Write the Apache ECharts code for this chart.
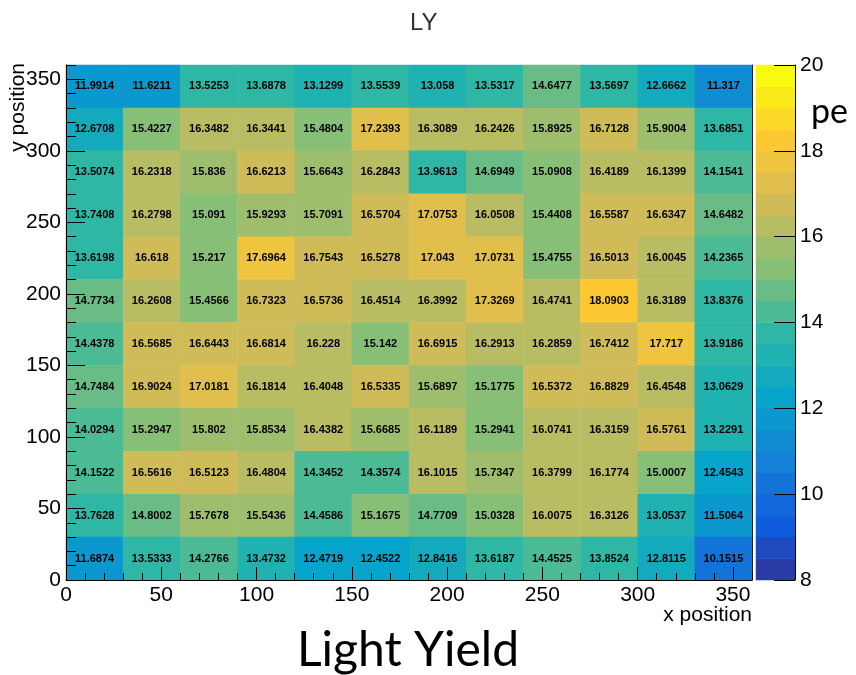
<!DOCTYPE html>
<html>
<head>
<meta charset="utf-8">
<title>LY</title>
<script src="https://cdn.jsdelivr.net/npm/echarts@6/dist/echarts.min.js"></script>
<style>
    html, body { margin: 0; padding: 0; background: #fff; }
    #main { width: 856px; height: 675px; }
</style>
</head>
<body>
<div id="main"></div>
<script>
// bin centres of the 12 x 12 scan grid
const xBins = [15, 45, 75, 105, 135, 165, 195, 225, 255, 285, 315, 345];
const yBins = [15, 45, 75, 105, 135, 165, 195, 225, 255, 285, 315, 345];
const xTicks = [0, 50, 100, 150, 200, 250, 300, 350];
const yTicks = [0, 50, 100, 150, 200, 250, 300, 350];

// light yield (pe), one row per y bin, left to right in x
const ly345 = [11.9914, 11.6211, 13.5253, 13.6878, 13.1299, 13.5539, 13.058, 13.5317, 14.6477, 13.5697, 12.6662, 11.317];
const ly315 = [12.6708, 15.4227, 16.3482, 16.3441, 15.4804, 17.2393, 16.3089, 16.2426, 15.8925, 16.7128, 15.9004, 13.6851];
const ly285 = [13.5074, 16.2318, 15.836, 16.6213, 15.6643, 16.2843, 13.9613, 14.6949, 15.0908, 16.4189, 16.1399, 14.1541];
const ly255 = [13.7408, 16.2798, 15.091, 15.9293, 15.7091, 16.5704, 17.0753, 16.0508, 15.4408, 16.5587, 16.6347, 14.6482];
const ly225 = [13.6198, 16.618, 15.217, 17.6964, 16.7543, 16.5278, 17.043, 17.0731, 15.4755, 16.5013, 16.0045, 14.2365];
const ly195 = [14.7734, 16.2608, 15.4566, 16.7323, 16.5736, 16.4514, 16.3992, 17.3269, 16.4741, 18.0903, 16.3189, 13.8376];
const ly165 = [14.4378, 16.5685, 16.6443, 16.6814, 16.228, 15.142, 16.6915, 16.2913, 16.2859, 16.7412, 17.717, 13.9186];
const ly135 = [14.7484, 16.9024, 17.0181, 16.1814, 16.4048, 16.5335, 15.6897, 15.1775, 16.5372, 16.8829, 16.4548, 13.0629];
const ly105 = [14.0294, 15.2947, 15.802, 15.8534, 16.4382, 15.6685, 16.1189, 15.2941, 16.0741, 16.3159, 16.5761, 13.2291];
const ly75 = [14.1522, 16.5616, 16.5123, 16.4804, 14.3452, 14.3574, 16.1015, 15.7347, 16.3799, 16.1774, 15.0007, 12.4543];
const ly45 = [13.7628, 14.8002, 15.7678, 15.5436, 14.4586, 15.1675, 14.7709, 15.0328, 16.0075, 16.3126, 13.0537, 11.5064];
const ly15 = [11.6874, 13.5333, 14.2766, 13.4732, 12.4719, 12.4522, 12.8416, 13.6187, 14.4525, 13.8524, 12.8115, 10.1515];

// colour scale
const zMin = 8;
const zMax = 20;
const nBands = 24;
const zTicks = [8, 10, 12, 14, 16, 18, 20];

// ROOT kBird palette stops
const birdStops = [0.0, 0.125, 0.25, 0.375, 0.5, 0.625, 0.75, 0.875, 1.0];
const birdRed = [0.2082, 0.0592, 0.0780, 0.0232, 0.1802, 0.5301, 0.8186, 0.9956, 0.9764];
const birdGreen = [0.1664, 0.3599, 0.5041, 0.6419, 0.7178, 0.7492, 0.7328, 0.7862, 0.9832];
const birdBlue = [0.5293, 0.8684, 0.8385, 0.7914, 0.6425, 0.4662, 0.3499, 0.1968, 0.0539];

function birdColor (f) {
    let k = 0;
    while (k < birdStops.length - 2 && f > birdStops[k + 1]) k++;
    const t = (f - birdStops[k]) / (birdStops[k + 1] - birdStops[k]);
    const c = ch => Math.round(255 * (ch[k] + t * (ch[k + 1] - ch[k])));
    return 'rgb(' + c(birdRed) + ',' + c(birdGreen) + ',' + c(birdBlue) + ')';
}

const rowsTopDown = [ly345, ly315, ly285, ly255, ly225, ly195, ly165, ly135, ly105, ly75, ly45, ly15];
let cells = [];
rowsTopDown.forEach((row, r) => {
    row.forEach((v, c) => {
        cells.push([c, yBins.length - 1 - r, v]);
    });
});

const step = (zMax - zMin) / nBands;
let pieces = [];
let bandCats = [];
let bandCells = [];
for (let i = 0; i < nBands; i++) {
    const lo = zMin + i * step;
    pieces.push({ gte: lo, lt: lo + step, color: birdColor((i + 0.99) / nBands) });
    bandCats.push(String(i));
    bandCells.push([0, i, lo + step / 2]);
}

const font = 'Liberation Sans, Arial, Helvetica, sans-serif';
const black = '#000';

var myChart = echarts.init(document.getElementById('main'), null, { renderer: 'canvas' });
let option = {
    animation: false,
    backgroundColor: '#fff',
    title: {
        text: 'LY',
        left: 405,
        top: 6,
        textStyle: { fontFamily: font, fontSize: 24, fontWeight: 'normal', color: '#333' }
    },
    grid: [
        { left: 66, top: 65, width: 686, height: 515, containLabel: false, outerBoundsMode: 'none' },
        { left: 756, top: 65, width: 39, height: 515, containLabel: false, outerBoundsMode: 'none' }
    ],
    visualMap: {
        type: 'piecewise',
        show: false,
        seriesIndex: [0, 1],
        dimension: 2,
        pieces: pieces
    },
    xAxis: [
        { type: 'category', gridIndex: 0, data: xBins, show: false },
        {
            type: 'value',
            gridIndex: 0,
            position: 'bottom',
            min: 0,
            max: 360,
            interval: 50,
            z: 10,
            axisLine: { show: true, onZero: false, lineStyle: { color: black, width: 1 } },
            axisTick: { show: true, inside: true, length: 13, customValues: xTicks, lineStyle: { color: black } },
            axisLabel: { customValues: xTicks, fontFamily: font, fontSize: 21, color: black, margin: 5 },
            splitLine: { show: false }
        },
        {
            type: 'value',
            gridIndex: 0,
            position: 'bottom',
            min: 0,
            max: 360,
            interval: 10,
            z: 10,
            axisLine: { show: false, onZero: false },
            axisTick: { show: true, inside: true, length: 7, lineStyle: { color: black } },
            axisLabel: { show: false },
            splitLine: { show: false }
        },
        { type: 'category', gridIndex: 1, data: ['z'], show: false }
    ],
    yAxis: [
        { type: 'category', gridIndex: 0, data: yBins, show: false },
        {
            type: 'value',
            gridIndex: 0,
            position: 'left',
            min: 0,
            max: 360,
            interval: 50,
            z: 10,
            axisLine: { show: true, onZero: false, lineStyle: { color: black, width: 1 } },
            axisTick: { show: true, inside: true, length: 19, customValues: yTicks, lineStyle: { color: black } },
            axisLabel: { customValues: yTicks, fontFamily: font, fontSize: 21, color: black, margin: 5 },
            splitLine: { show: false }
        },
        {
            type: 'value',
            gridIndex: 0,
            position: 'left',
            min: 0,
            max: 360,
            interval: 10,
            z: 10,
            axisLine: { show: false, onZero: false },
            axisTick: { show: true, inside: true, length: 10, lineStyle: { color: black } },
            axisLabel: { show: false },
            splitLine: { show: false }
        },
        {
            type: 'value',
            gridIndex: 0,
            position: 'right',
            min: 0,
            max: 360,
            z: 10,
            axisLine: { show: true, onZero: false, lineStyle: { color: '#222', width: 1 } },
            axisTick: { show: false },
            axisLabel: { show: false },
            splitLine: { show: false }
        },
        { type: 'category', gridIndex: 1, data: bandCats, show: false },
        {
            type: 'value',
            gridIndex: 1,
            position: 'right',
            min: zMin,
            max: zMax,
            interval: 2,
            z: 10,
            axisLine: { show: true, onZero: false, lineStyle: { color: black, width: 1 } },
            axisTick: { show: true, inside: true, length: 21, customValues: zTicks, lineStyle: { color: black } },
            axisLabel: { customValues: zTicks, fontFamily: font, fontSize: 21, color: black, margin: 5 },
            splitLine: { show: false }
        }
    ],
    series: [
        {
            name: 'LY',
            type: 'heatmap',
            xAxisIndex: 0,
            yAxisIndex: 0,
            data: cells,
            itemStyle: { borderWidth: 0 },
            label: {
                show: true,
                formatter: p => String(p.value[2]),
                fontFamily: font,
                fontSize: 11,
                fontWeight: 'bold',
                color: black
            },
            emphasis: { disabled: true }
        },
        {
            name: 'palette',
            type: 'heatmap',
            xAxisIndex: 3,
            yAxisIndex: 4,
            data: bandCells,
            itemStyle: { borderWidth: 0 },
            label: { show: false },
            emphasis: { disabled: true }
        }
    ],
    graphic: [
        {
            type: 'text',
            x: 752,
            y: 615,
            style: { text: 'x position', fontFamily: font, fontSize: 21, fill: black, align: 'right', verticalAlign: 'middle' }
        },
        {
            type: 'text',
            x: 18,
            y: 63,
            rotation: Math.PI / 2,
            style: { text: 'y position', fontFamily: font, fontSize: 21, fill: black, align: 'right', verticalAlign: 'middle' }
        },
        {
            type: 'text',
            x: 811,
            y: 112,
            style: { text: 'pe', fontFamily: 'Lato, Open Sans, sans-serif', fontSize: 34, fill: black, align: 'left', verticalAlign: 'middle' }
        },
        {
            type: 'text',
            x: 408,
            y: 651,
            style: { text: 'Light Yield', fontFamily: 'Lato, Open Sans, sans-serif', fontSize: 48, fill: black, align: 'center', verticalAlign: 'middle' }
        }
    ]
};
myChart.setOption(option);
</script>
</body>
</html>
